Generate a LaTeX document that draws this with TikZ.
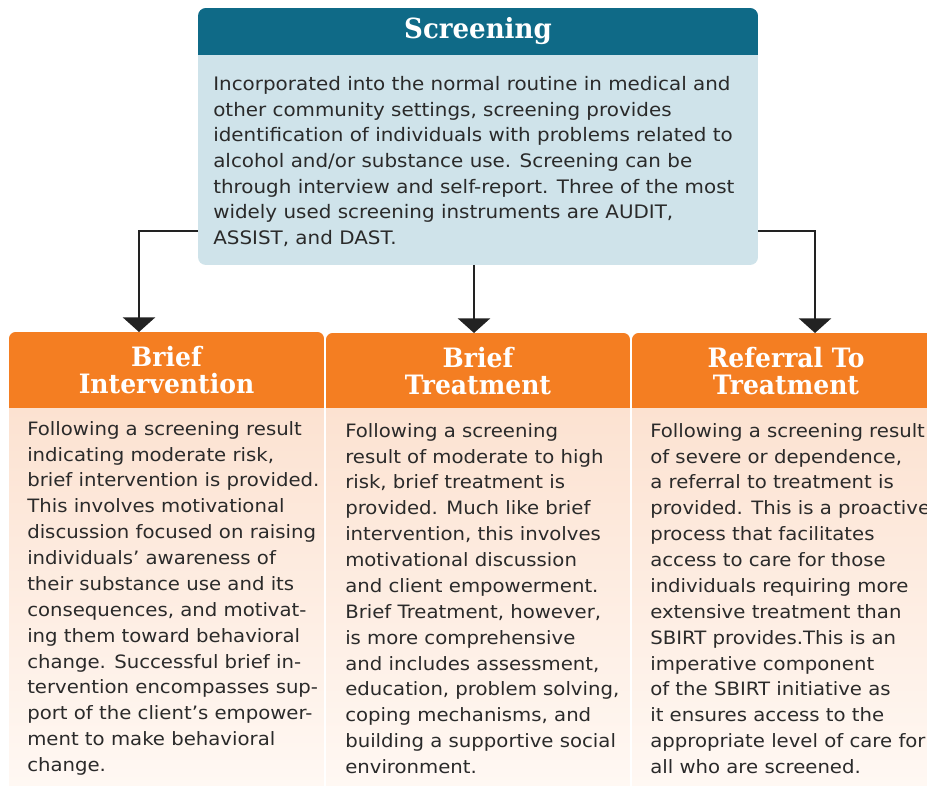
\documentclass[tikz,border=0pt]{standalone}
\usepackage{fontspec}
\usepackage{xcolor}
\usepackage{tikz}
\usetikzlibrary{calc,arrows.meta,positioning}
\newfontfamily\bodyfont[FakeStretch=1.07]{DejaVu Sans}
\newfontfamily\headfont[FakeStretch=0.94]{DejaVu Serif}
\definecolor{tealhd}{HTML}{0F6A87}
\definecolor{scrblue}{HTML}{CFE3EA}
\definecolor{hdorange}{HTML}{F47E22}
\definecolor{peachtop}{HTML}{FCE2D1}
\definecolor{peachbot}{HTML}{FFF8F3}
\definecolor{txtgray}{HTML}{2A2A2A}
\definecolor{linkgray}{HTML}{222222}
\tikzset{
  conn/.style={-{Triangle[width=24pt,length=11pt]},line width=2.2pt,linkgray},
  frame/.style={inner sep=0pt,outer sep=0pt},
  hdtxt/.style={text=white,align=center,inner sep=0pt,font=\headfont\bfseries\fontsize{20}{20.25}\selectfont},
  bodytxt/.style={text=txtgray,align=left,inner sep=0pt,anchor=north west,font=\bodyfont\fontsize{13.8}{19.4}\selectfont}
}
\begin{document}
\begin{tikzpicture}[x=0.75pt,y=-0.75pt]
\path[use as bounding box] (0,0) rectangle (927,787);
\clip (0,0) rectangle (927,787);
\fill[white] (0,0) rectangle (927,787);

\node[frame,minimum width=420pt,minimum height=192.75pt] (scr) at (478,136.5) {};
\node[frame,minimum width=236.25pt,minimum height=339.75pt] (bibox) at (166.5,558.5) {};
\node[frame,minimum width=228pt,minimum height=339pt] (btbox) at (478,559) {};
\node[frame,minimum width=231pt,minimum height=339pt] (rtbox) at (786,559) {};

\begin{scope}
\clip[rounded corners=6pt] (scr.south west) rectangle (scr.north east);
\fill[scrblue] (scr.south west) rectangle (scr.north east);
\fill[tealhd] (scr.north west) rectangle ([yshift=-35.25pt]scr.north east);
\end{scope}

\begin{scope}
\clip[rounded corners=5pt] (bibox.north west) rectangle ([yshift=-10pt]bibox.south east);
\shade[top color=peachtop,bottom color=peachbot] ([yshift=-57pt]bibox.north west) rectangle (bibox.south east);
\fill[hdorange] (bibox.north west) rectangle ([yshift=-57pt]bibox.north east);
\end{scope}
\begin{scope}
\clip[rounded corners=5pt] (btbox.north west) rectangle ([yshift=-10pt]btbox.south east);
\shade[top color=peachtop,bottom color=peachbot] ([yshift=-56.25pt]btbox.north west) rectangle (btbox.south east);
\fill[hdorange] (btbox.north west) rectangle ([yshift=-56.25pt]btbox.north east);
\end{scope}
\begin{scope}
\clip[rounded corners=5pt] (rtbox.north west) rectangle ([yshift=-10pt]rtbox.south east);
\shade[top color=peachtop,bottom color=peachbot] ([yshift=-56.25pt]rtbox.north west) rectangle (rtbox.south east);
\fill[hdorange] (rtbox.north west) rectangle ([yshift=-56.25pt]rtbox.north east);
\end{scope}

\node[hdtxt,font=\headfont\bfseries\fontsize{20.8}{21}\selectfont] (scrhd) at (478,31) {Screening};
\node[hdtxt] (bi) at (166.5,370) {Brief\\Intervention};
\node[hdtxt] (bt) at (478,371) {Brief\\Treatment};
\node[hdtxt] (rt) at (786,371) {Referral To\\Treatment};

\node[bodytxt,font=\bodyfont\fontsize{13.95}{19.25}\selectfont] (scrtxt) at (213,76) {Incorporated into the normal routine in medical and\\
other community settings, screening provides\\
identification of individuals with problems related to\\
alcohol and/or substance use. Screening can be\\
through interview and self-report. Three of the most\\
widely used screening instruments are AUDIT,\\
ASSIST, and DAST.};

\node[bodytxt] (bitxt) at (27,421) {Following a screening result\\
indicating moderate risk,\\
brief intervention is provided.\\
This involves motivational\\
discussion focused on raising\\
individuals’ awareness of\\
their substance use and its\\
consequences, and motivat-\\
ing them toward behavioral\\
change. Successful brief in-\\
tervention encompasses sup-\\
port of the client’s empower-\\
ment to make behavioral\\
change.};

\node[bodytxt] (bttxt) at (345,423) {Following a screening\\
result of moderate to high\\
risk, brief treatment is\\
provided. Much like brief\\
intervention, this involves\\
motivational discussion\\
and client empowerment.\\
Brief Treatment, however,\\
is more comprehensive\\
and includes assessment,\\
education, problem solving,\\
coping mechanisms, and\\
building a supportive social\\
environment.};

\node[bodytxt] (rttxt) at (650,423) {Following a screening result\\
of severe or dependence,\\
a referral to treatment is\\
provided. This is a proactive\\
process that facilitates\\
access to care for those\\
individuals requiring more\\
extensive treatment than\\
SBIRT provides.This is an\\
imperative component\\
of the SBIRT initiative as\\
it ensures access to the\\
appropriate level of care for\\
all who are screened.};

\coordinate (lk) at (139,231);
\coordinate (mk) at (474,0);
\coordinate (rk) at (815,231);
\draw[conn] (scr.west |- lk) -| (lk |- bibox.north);
\draw[conn] (mk |- scr.south) -- (mk |- btbox.north);
\draw[conn] (scr.east |- rk) -| (rk |- rtbox.north);
\end{tikzpicture}
\end{document}
